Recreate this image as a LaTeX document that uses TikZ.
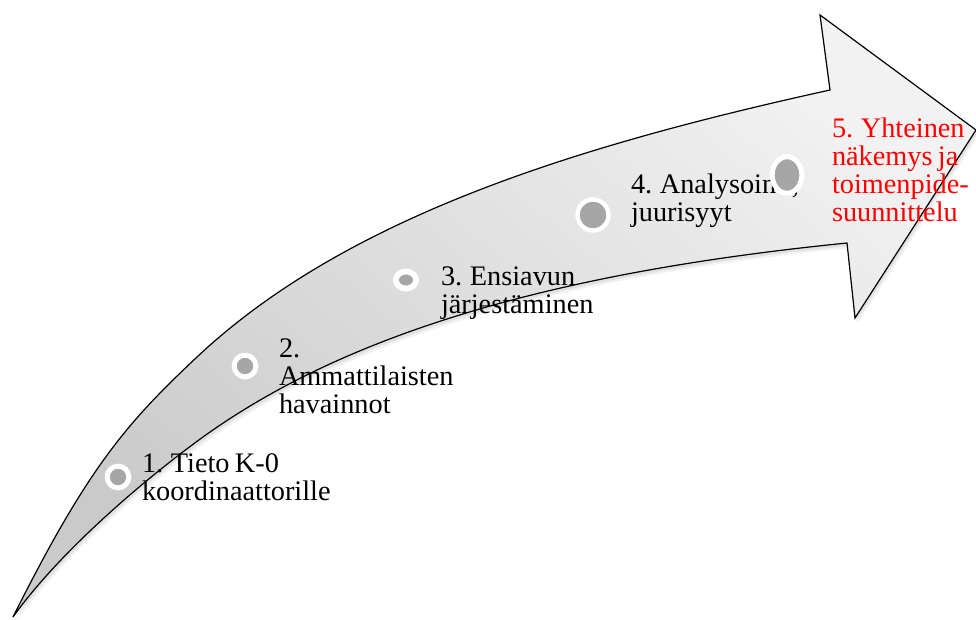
\documentclass[tikz,border=0pt]{standalone}
\usepackage{fontspec}
\setmainfont[WordSpace=0.75]{Liberation Serif}
\usetikzlibrary{shapes.geometric}
\definecolor{dotgray}{RGB}{166,166,166}
\definecolor{shadetop}{RGB}{242,242,242}
\definecolor{shadebot}{RGB}{202,202,202}
\definecolor{labelred}{RGB}{255,0,0}
\newcommand\ArrowOutline{(13,617) .. controls (88,467) and (127,422.8) .. (197,357)
  .. controls (347,216) and (580,145) .. (830,90)
  -- (820,15) -- (976,130) -- (855,318) -- (847,243)
  .. controls (567,271) and (353,329) .. (203,437)
  .. controls (153,473) and (63,547) .. (13,617) -- cycle}
\begin{document}
\begin{tikzpicture}[x=1pt,y=-1pt,
  dotnode/.style={ellipse, draw=white, fill=dotgray, inner sep=0pt, outer sep=0pt},
  lbl/.style={anchor=base west, inner sep=0pt, outer sep=0pt, font=\fontsize{28.3}{28}\selectfont}]
\useasboundingbox (0,0) rectangle (976,619);
% soft shadow
\fill[black, opacity=0.05, shift={(3,5)}] \ArrowOutline;
\fill[black, opacity=0.07, shift={(1.5,3)}] \ArrowOutline;
% arrow body
\shadedraw[top color=shadetop, bottom color=shadebot, shading angle=-40, draw=black, line width=1.2pt, line join=miter] \ArrowOutline;
% labels
\node[lbl] (t1) at (142,472) {\begin{tabular}[t]{@{}l@{}}1. Tieto K-0\\koordinaattorille\end{tabular}};
\node[lbl] (t2) at (279,357) {\begin{tabular}[t]{@{}l@{}}2.\\Ammattilaisten\\havainnot\end{tabular}};
\node[lbl] (t3) at (441,285) {\begin{tabular}[t]{@{}l@{}}3. Ensiavun\\järjestäminen\end{tabular}};
\node[lbl] (t4) at (631,193) {\begin{tabular}[t]{@{}l@{}}4. Analysointi,\\juurisyyt\end{tabular}};
\node[lbl, text=labelred] (t5) at (832,137) {\begin{tabular}[t]{@{}l@{}}5. Yhteinen\\näkemys ja\\toimenpide-\\suunnittelu\end{tabular}};
% step markers
\node[dotnode, line width=5pt, minimum width=21.7pt, minimum height=21.7pt] (c1) at (118,477) {};
\node[dotnode, line width=5pt, minimum width=21.7pt, minimum height=21.7pt] (c2) at (245,366) {};
\node[dotnode, line width=5.8pt, minimum width=20.3pt, minimum height=17pt] (c3) at (406,280) {};
\node[dotnode, line width=4.4pt, minimum width=31pt, minimum height=31pt] (c4) at (593,215) {};
\node[dotnode, line width=5pt, minimum width=29.7pt, minimum height=36.5pt] (c5) at (787,175) {};
\end{tikzpicture}
\end{document}
